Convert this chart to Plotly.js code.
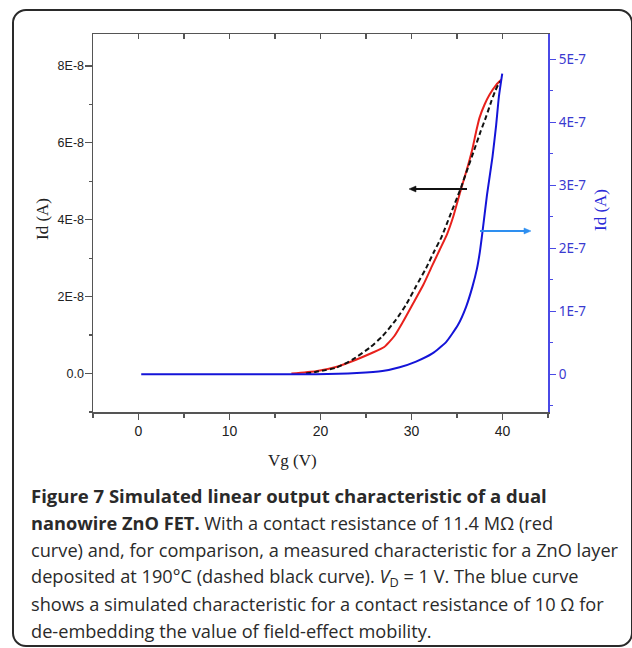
<!DOCTYPE html>
<html>
<head>
<meta charset="utf-8">
<script src="https://cdn.plot.ly/plotly-3.0.1.min.js"></script>
<style>
  html, body { margin: 0; padding: 0; background: #fff; }
  #wrap { position: relative; width: 632px; height: 648px; overflow: hidden; }
  #chart { position: absolute; left: 0; top: 0; width: 632px; height: 648px; }
  #frame { position: absolute; left: 12px; top: 9px; width: 617px; height: 634px;
           border: 2px solid #2a2a2a; border-radius: 14px; pointer-events: none; z-index: 5; }
</style>
</head>
<body>
<div id="wrap">
  <div id="chart"></div>
  <div id="frame"></div>
</div>
<script>
// ---------------- data ----------------
// Red: simulated, contact resistance 11.4 MOhm (left axis, A)
const vgRed = [16.8, 19.5, 21.7, 23.9, 25.7, 27.0, 28.1, 29.0, 30.1, 31.3, 32.3, 33.1, 33.9, 34.6, 35.35, 36.1, 36.67, 37.11, 37.47, 38.02, 38.57, 39.31, 39.86];
const idRed = [0, 0.06e-8, 0.17e-8, 0.36e-8, 0.54e-8, 0.69e-8, 0.97e-8, 1.32e-8, 1.79e-8, 2.31e-8, 2.82e-8, 3.22e-8, 3.62e-8, 4.09e-8, 4.72e-8, 5.32e-8, 5.82e-8, 6.30e-8, 6.65e-8, 6.99e-8, 7.25e-8, 7.51e-8, 7.64e-8];

// Dashed black: measured, ZnO layer deposited at 190 C (left axis, A)
const vgMeas = [18.4, 21.7, 23.5, 25.4, 26.8, 28.3, 29.4, 30.5, 31.6, 32.5, 33.3, 34.2, 35.35, 36.2, 36.9, 37.6, 38.2, 38.8, 39.2, 39.5, 39.75];
const idMeas = [0, 0.15e-8, 0.36e-8, 0.67e-8, 0.97e-8, 1.40e-8, 1.79e-8, 2.27e-8, 2.74e-8, 3.18e-8, 3.55e-8, 4.09e-8, 4.78e-8, 5.35e-8, 5.82e-8, 6.30e-8, 6.68e-8, 7.10e-8, 7.35e-8, 7.50e-8, 7.59e-8];

// Blue: simulated, contact resistance 10 Ohm (right axis, A)
const vgBlue = [0.3, 10, 19.5, 24.0, 26.8, 28.7, 30.5, 32.3, 33.8, 35.1, 36.0, 36.7, 37.2, 37.5, 37.8, 38.3, 38.9, 39.3, 39.6, 39.97];
const idBlue = [0, 0, 0, 0.02e-7, 0.05e-7, 0.11e-7, 0.20e-7, 0.33e-7, 0.51e-7, 0.78e-7, 1.07e-7, 1.39e-7, 1.68e-7, 1.93e-7, 2.26e-7, 2.85e-7, 3.45e-7, 3.95e-7, 4.40e-7, 4.77e-7];

// tick labels
const xTickVals = [0, 10, 20, 30, 40];
const yLeftTickVals = [0, 2e-8, 4e-8, 6e-8, 8e-8];
const yLeftTickText = ['0.0', '2E-8', '4E-8', '6E-8', '8E-8'];
const yRightTickVals = [0, 1e-7, 2e-7, 3e-7, 4e-7, 5e-7];
const yRightTickText = ['0', '1E-7', '2E-7', '3E-7', '4E-7', '5E-7'];

// text
const xTitle = 'Vg (V)';
const yTitle = 'Id (A)';
const captionLines = [
  '<b>Figure 7 Simulated linear output characteristic of a dual</b>',
  '<b>nanowire ZnO FET.</b> With a contact resistance of 11.4 MΩ (red',
  'curve) and, for comparison, a measured characteristic for a ZnO layer',
  'deposited at 190°C (dashed black curve). <i>V</i><sub>D</sub> = 1 V. The blue curve',
  'shows a simulated characteristic for a contact resistance of 10 Ω for',
  'de-embedding the value of field-effect mobility.'
];

// ---------------- layout geometry ----------------
const W = 632, H = 648;
const M = { l: 93, r: 84, t: 34, b: 236 };
const pw = W - M.l - M.r, ph = H - M.t - M.b;
const px2paperX = p => (p - M.l) / pw;
const px2paperY = p => (H - M.b - p) / ph;

const BLUE_AX = '#4a4ae6';
const AX_GRAY = '#555555';
const SERIF = 'Liberation Serif, Times New Roman, serif';

const traces = [
  { x: vgRed, y: idRed, type: 'scatter', mode: 'lines', name: 'Rc = 11.4 MΩ',
    line: { color: '#e8211c', width: 2, shape: 'spline', smoothing: 0.5 }, xaxis: 'x', yaxis: 'y' },
  { x: vgMeas, y: idMeas, type: 'scatter', mode: 'lines', name: 'measured',
    line: { color: '#111111', width: 2, dash: '5px,3px', shape: 'spline', smoothing: 0.5 }, xaxis: 'x', yaxis: 'y' },
  { x: vgBlue, y: idBlue, type: 'scatter', mode: 'lines', name: 'Rc = 10 Ω',
    line: { color: '#1414d8', width: 2, shape: 'spline', smoothing: 0.5 }, xaxis: 'x', yaxis: 'y2' },
  { x: [], y: [], type: 'scatter', mode: 'lines', xaxis: 'x2', yaxis: 'y', showlegend: false, hoverinfo: 'skip' }
];

const annotations = [
  { xref: 'paper', yref: 'paper', x: px2paperX(292), y: px2paperY(461), xanchor: 'center', yanchor: 'middle',
    text: xTitle, showarrow: false, font: { family: SERIF, size: 17, color: '#222' } },
  { xref: 'paper', yref: 'paper', x: px2paperX(42), y: px2paperY(219), xanchor: 'center', yanchor: 'middle',
    text: yTitle, textangle: -90, showarrow: false, font: { family: SERIF, size: 17, color: '#222' } },
  { xref: 'paper', yref: 'paper', x: px2paperX(600), y: px2paperY(210), xanchor: 'center', yanchor: 'middle',
    text: yTitle, textangle: -90, showarrow: false, font: { family: SERIF, size: 17, color: '#2a2ad8' } }
];

const capY = [495, 523, 550, 577, 604, 631];
captionLines.forEach((t, i) => {
  annotations.push({ xref: 'paper', yref: 'paper', x: px2paperX(29), y: px2paperY(capY[i]),
    xanchor: 'left', yanchor: 'middle', align: 'left', text: t, showarrow: false,
    font: { family: 'Open Sans, sans-serif', size: i === 0 ? 18.5 : 18.2, color: '#2a2a2a' } });
});

// arrows (pixel positions converted to paper fractions)
function arrowShapes(xTail, xTip, yPx, color) {
  const dir = xTip < xTail ? 1 : -1;
  const back = xTip + dir * 7;
  const f = v => v.toFixed(5);
  return [
    { type: 'line', xref: 'paper', yref: 'paper', x0: px2paperX(xTail), x1: px2paperX(back),
      y0: px2paperY(yPx), y1: px2paperY(yPx), line: { color: color, width: 2 } },
    { type: 'path', xref: 'paper', yref: 'paper', fillcolor: color, line: { color: color, width: 0.5 },
      path: 'M ' + f(px2paperX(xTip)) + ' ' + f(px2paperY(yPx)) +
            ' L ' + f(px2paperX(back)) + ' ' + f(px2paperY(yPx - 3)) +
            ' L ' + f(px2paperX(back)) + ' ' + f(px2paperY(yPx + 3)) + ' Z' }
  ];
}
const shapes = [].concat(arrowShapes(467, 409, 189, '#111111'), arrowShapes(480, 531, 231, '#2e8ff0'));

const layout = {
  width: W, height: H,
  margin: M,
  paper_bgcolor: '#ffffff', plot_bgcolor: '#ffffff',
  showlegend: false,
  xaxis: {
    range: [-5, 45], tickmode: 'array', tickvals: xTickVals,
    ticks: 'outside', ticklen: 6, tickwidth: 1.3, tickcolor: AX_GRAY,
    minor: { dtick: 5, tick0: 0, ticks: 'outside', ticklen: 4, tickcolor: AX_GRAY, tickwidth: 1.2 },
    showline: true, linecolor: AX_GRAY, linewidth: 1.5, showgrid: false, zeroline: false,
    tickfont: { family: 'Liberation Sans, Arial, sans-serif', size: 14, color: '#222' }
  },
  xaxis2: {
    overlaying: 'x', side: 'top', anchor: 'y', range: [-5, 45], tickmode: 'linear', tick0: 0, dtick: 5,
    ticks: 'inside', ticklen: 5, tickwidth: 1.3, tickcolor: AX_GRAY, showticklabels: false,
    showline: true, linecolor: AX_GRAY, linewidth: 1.5, showgrid: false, zeroline: false
  },
  yaxis: {
    range: [-1e-8, 8.83e-8], tickmode: 'array', tickvals: yLeftTickVals, ticktext: yLeftTickText,
    ticks: 'outside', ticklen: 7, tickwidth: 1.3, tickcolor: AX_GRAY, ticklabelstandoff: -2,
    minor: { dtick: 1e-8, tick0: 0, ticks: 'outside', ticklen: 3, tickcolor: AX_GRAY, tickwidth: 1.2 },
    showline: true, linecolor: AX_GRAY, linewidth: 1.5, showgrid: false, zeroline: false,
    tickfont: { family: 'Liberation Sans, Arial, sans-serif', size: 12.5, color: '#222' }
  },
  yaxis2: {
    overlaying: 'y', side: 'right', anchor: 'x', range: [-0.6e-7, 5.4e-7],
    tickmode: 'array', tickvals: yRightTickVals, ticktext: yRightTickText,
    ticks: 'outside', ticklen: 6, tickwidth: 1.3, tickcolor: BLUE_AX,
    minor: { dtick: 0.5e-7, tick0: 0, ticks: 'outside', ticklen: 3, tickcolor: BLUE_AX, tickwidth: 1.2 },
    showline: true, linecolor: BLUE_AX, linewidth: 2, showgrid: false, zeroline: false,
    tickfont: { family: 'Noto Sans, Open Sans, sans-serif', size: 13.5, color: '#3a3ad0' }
  },
  shapes: shapes,
  annotations: annotations
};

Plotly.newPlot('chart', traces, layout, { displayModeBar: false, staticPlot: true }).then(() => {
  document.querySelectorAll('.js-plotly-tester').forEach(el => el.remove());
});
</script>
</body>
</html>
